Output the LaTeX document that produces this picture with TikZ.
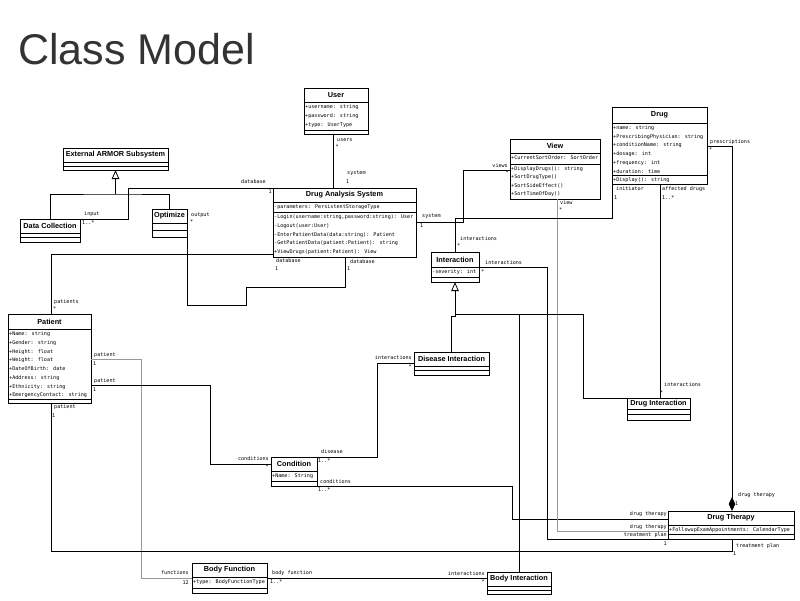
\documentclass[tikz,border=0pt]{standalone}
\usepackage{fontspec}
\setmainfont{Liberation Sans}
\newfontfamily\monof{DejaVu Sans Mono}
\usetikzlibrary{arrows.meta}
\tikzset{
 clsbox/.style={draw=black, line width=0.8pt, fill=white, inner sep=0pt, outer sep=0pt},
 clsline/.style={draw=black, line width=0.8pt},
 clsname/.style={font=\bfseries\fontsize{7.3}{8}\selectfont, inner sep=0pt},
 clstext/.style={align=left, inner xsep=1pt, inner ysep=2.3pt, anchor=north west},
 assoc/.style={draw=black, line width=0.8pt},
 assocg/.style={draw=black!40, line width=0.8pt},
 gen/.style={assoc, -{Triangle[length=9pt, width=7.5pt, fill=white]}},
 comp/.style={assoc, {Diamond[length=14pt, width=6.5pt]}-},
 lbl/.style={font=\monof\fontsize{5.1}{6}\selectfont, inner sep=0pt},
}
\newcommand{\umlclass}[8]{%
 \node[clsbox, anchor=north west, minimum width={(#4-#2)*1pt}, minimum height={(#5-#3)*1pt}] (#1) at (#2,#3) {};
 \draw[clsline] (#2,#6) -- (#4,#6) (#2,#7) -- (#4,#7);
 \node[clsname] (#1-name) at ({(#2+#4)/2},{(#3+#6)/2}) {#8};
}
\newcommand{\umltext}[5]{%
 \node[clstext, font=\monof\fontsize{5.1}{#5}\selectfont] (#1) at (#2,#3) {\rule{0pt}{4pt}#4};
}
\begin{document}
\begin{tikzpicture}[x=1pt, y=-1pt]
\fill[white] (0,0) rectangle (800,600);
\useasboundingbox (0,0) rectangle (800,600);

\node[font=\fontsize{43}{50}\selectfont, text=black!80, anchor=base west, inner sep=0pt] (title) at (18,64) {Class Model};

% classes
\umlclass{user}{304}{88}{368}{134}{102}{130}{User}
\umltext{user-a}{304}{102}{+username: string\\+password: string\\+type: UserType}{9.2}

\umlclass{drug}{612}{107}{707}{184}{123}{175}{Drug}
\umltext{drug-a}{612}{123}{+name: string\\+PrescribingPhysician: string\\+conditionName: string\\+dosage: int\\+frequency: int\\+duration: time}{8.7}
\umltext{drug-o}{612}{175}{+Display(): string}{8.7}

\umlclass{view}{510}{139}{600}{199}{153}{164}{View}
\umltext{view-a}{510}{153}{+CurrentSortOrder: SortOrder}{8.4}
\umltext{view-o}{510}{164}{+DisplayDrugs(): string\\+SortDrugType()\\+SortSideEffect()\\+SortTimeOfDay()}{8.4}

\umlclass{das}{273}{188}{416}{257}{202}{212}{Drug Analysis System}
\umltext{das-a}{273}{202}{-parameters: PersistentStorageType}{8.8}
\umltext{das-o}{273}{212}{-Login(username:string,password:string): User\\-Logout(user:User)\\-EnterPatientData(data:string): Patient\\-GetPatientData(patient:Patient): string\\+ViewDrugs(patient:Patient): View}{8.8}

\umlclass{ext}{63}{148}{168}{170}{162}{166}{External ARMOR Subsystem}
\umlclass{dc}{20}{219}{80}{242}{233}{237.5}{Data Collection}
\umlclass{opt}{152}{209}{187}{237}{223}{230}{Optimize}

\umlclass{pat}{8}{314}{91}{403}{329}{399}{Patient}
\umltext{pat-a}{8}{329}{+Name: string\\+Gender: string\\+Height: float\\+Weight: float\\+DateOfBirth: date\\+Address: string\\+Ethnicity: string\\+EmergencyContact: string}{8.75}

\umlclass{inter}{431}{252}{479}{282}{267}{277}{Interaction}
\umltext{inter-a}{431}{267}{-severity: int}{8.7}

\umlclass{di}{414}{352}{489}{375}{366}{370.5}{Disease Interaction}
\umlclass{dint}{627}{398}{690}{420}{409}{414.5}{Drug Interaction}

\umlclass{cond}{271}{457}{317}{486}{471}{481}{Condition}
\umltext{cond-a}{271}{471}{+Name: String}{8.7}

\umlclass{dt}{668}{511}{794}{539}{525}{534}{Drug Therapy}
\umltext{dt-a}{668}{525}{+FollowupExamAppointments: CalendarType}{8.7}

\umlclass{bf}{192}{563}{267}{593}{577}{588}{Body Function}
\umltext{bf-a}{192}{577}{+type: BodyFunctionType}{8.7}

\umlclass{bi}{487}{572}{551}{594}{586}{590}{Body Interaction}

% connectors
\coordinate (c1) at ([xshift=29pt]user.south west);
\draw[assoc] (c1) -- (c1 |- das.north);

\draw[assoc] (das.north west) -| ([xshift=48pt]dc.north east) -- (dc.north east);

\draw[assoc] (dc.north) |- ([yshift=-24pt]ext.south) -| (opt.north);
\draw[gen] ([yshift=-24pt]ext.south) -- (ext.south);

\draw[assoc] (opt.south east) |- ([xshift=-27pt,yshift=-48pt]das.south west) |- ([xshift=72pt,yshift=-30pt]das.south west) -- ([xshift=72pt]das.south west);

\draw[assoc] ([xshift=43pt]pat.north west) |- ([yshift=3pt]das.south west);

\draw[assocg] ([yshift=-45pt]pat.north east) -| ([xshift=-51pt]bf.west) -- (bf.west);

\draw[assoc] ([yshift=-71pt]pat.north east) -| ([xshift=-61pt,yshift=-7pt]cond.north west) -- ([yshift=-7pt]cond.north west);

\draw[assoc] ([xshift=43pt]pat.south west) |- ([xshift=64pt,yshift=-12pt]dt.south west) -- ([xshift=64pt]dt.south west);

\draw[assoc] (bf.east) -- (bf.east -| bi.west);

\draw[assoc] (cond.north east) -| ([xshift=-37pt,yshift=-11pt]di.north west) -- ([yshift=-11pt]di.north west);

\draw[assoc] (cond.south east) -| ([xshift=-156pt,yshift=-8pt]dt.north west) -- ([yshift=-8pt]dt.north west);

\draw[assocg] ([xshift=47pt]view.south west) |- ([yshift=8pt]dt.south west);

\draw[assoc] ([yshift=-15pt]inter.north east) -| ([xshift=-121pt]dt.south west) -- (dt.south west);

\draw[gen] (di.north) |- ([yshift=-34pt]inter.south) -- (inter.south);
\draw[assoc] ([yshift=-32pt]inter.south) -| (bi.north);
\draw[assoc] ([yshift=-32pt]inter.south) -| ([xshift=-44pt]dint.north west) -- (dint.north west);

\coordinate (c15) at ([xshift=48pt]drug.south west);
\draw[assoc] (c15) -- (c15 |- dint.north);

\draw[comp] ([xshift=64pt]dt.north west) |- ([yshift=38pt]drug.south east);

% Drug initiator -- Interaction interactions
\draw[assoc] (drug.south west) |- ([yshift=34pt]inter.north) -- (inter.north);

% DAS system -- View views
\draw[assoc] ([yshift=-34pt]das.north east) -| ([xshift=-47pt,yshift=-31pt]view.north west) -- ([yshift=-31pt]view.north west);

% labels
\node[lbl, anchor=west] (L1) at (337,140) {users};
\node[lbl, anchor=west] (L2) at (335.5,147) {*};
\node[lbl, anchor=west] (L3) at (347,173) {system};
\node[lbl, anchor=west] (L4) at (346,181.5) {1};
\node[lbl, anchor=east] (L5) at (266,182) {database};
\node[lbl, anchor=east] (L6) at (272,191.5) {1};
\node[lbl, anchor=west] (L7) at (84,214) {input};
\node[lbl, anchor=west] (L8) at (82,223) {1..*};
\node[lbl, anchor=west] (L9) at (191,215) {output};
\node[lbl, anchor=west] (L10) at (190,222) {*};
\node[lbl, anchor=west] (L11) at (54,302) {patients};
\node[lbl, anchor=west] (L12) at (53,309) {*};
\node[lbl, anchor=west] (L13) at (94,355) {patient};
\node[lbl, anchor=west] (L14) at (93,364) {1};
\node[lbl, anchor=west] (L15) at (94,381) {patient};
\node[lbl, anchor=west] (L16) at (93,389.5) {1};
\node[lbl, anchor=west] (L17) at (54,407) {patient};
\node[lbl, anchor=west] (L18) at (52,416) {1};
\node[lbl, anchor=east] (L19) at (189,573) {functions};
\node[lbl, anchor=east] (L20) at (189,583) {12};
\node[lbl, anchor=west] (L21) at (272,573) {body function};
\node[lbl, anchor=west] (L22) at (270,582) {1..*};
\node[lbl, anchor=east] (L23) at (485,574) {interactions};
\node[lbl, anchor=east] (L24) at (485,582) {*};
\node[lbl, anchor=east] (L25) at (269,459) {conditions};
\node[lbl, anchor=east] (L26) at (269,467) {*};
\node[lbl, anchor=west] (L27) at (321,452) {disease};
\node[lbl, anchor=west] (L28) at (318,461) {1..*};
\node[lbl, anchor=west] (L29) at (320,482) {conditions};
\node[lbl, anchor=west] (L30) at (318,490) {1..*};
\node[lbl, anchor=east] (L31) at (412,358) {interactions};
\node[lbl, anchor=east] (L32) at (412,367) {*};
\node[lbl, anchor=west] (L33) at (485,263) {interactions};
\node[lbl, anchor=west] (L34) at (481,271.5) {*};
\node[lbl, anchor=west] (L35) at (460,239) {interactions};
\node[lbl, anchor=west] (L36) at (457,246) {*};
\node[lbl, anchor=east] (L37) at (508,166) {views};
\node[lbl, anchor=east] (L38) at (509,173) {*};
\node[lbl, anchor=west] (L39) at (560,203) {view};
\node[lbl, anchor=west] (L40) at (559,210) {*};
\node[lbl, anchor=west] (L41) at (422,216.5) {system};
\node[lbl, anchor=west] (L42) at (420,226) {1};
\node[lbl, anchor=west] (L43) at (616,189) {initiator};
\node[lbl, anchor=west] (L44) at (614,197.5) {1};
\node[lbl, anchor=west] (L45) at (662,189) {affected drugs};
\node[lbl, anchor=west] (L46) at (662,197.5) {1..*};
\node[lbl, anchor=west] (L47) at (710,142) {prescriptions};
\node[lbl, anchor=west] (L48) at (709,150) {*};
\node[lbl, anchor=west] (L49) at (664,385) {interactions};
\node[lbl, anchor=west] (L50) at (660,393) {*};
\node[lbl, anchor=west] (L51) at (738,495) {drug therapy};
\node[lbl, anchor=west] (L52) at (735,504) {1};
\node[lbl, anchor=east] (L53) at (667,514) {drug therapy};
\node[lbl, anchor=east] (L54) at (667,527) {drug therapy};
\node[lbl, anchor=east] (L55) at (667,535) {treatment plan};
\node[lbl, anchor=east] (L56) at (667,544) {1};
\node[lbl, anchor=west] (L57) at (736,546) {treatment plan};
\node[lbl, anchor=west] (L58) at (733,554) {1};
\node[lbl, anchor=west] (L59) at (276,261) {database};
\node[lbl, anchor=west] (L60) at (275,269) {1};
\node[lbl, anchor=west] (L61) at (350,262) {database};
\node[lbl, anchor=west] (L62) at (347,269) {1};
\end{tikzpicture}
\end{document}
